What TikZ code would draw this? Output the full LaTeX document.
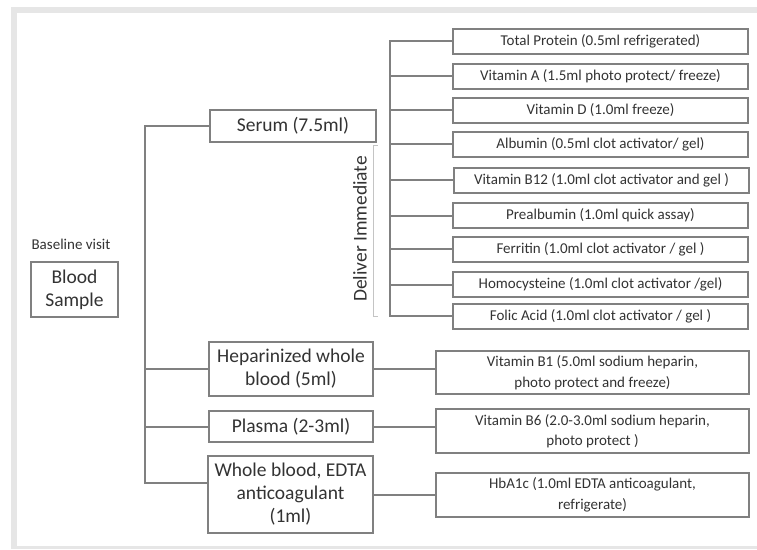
\documentclass[tikz,border=0pt]{standalone}
\usepackage{fontspec}
\setmainfont{Carlito}
\definecolor{linegray}{HTML}{808080}
\definecolor{txt}{HTML}{333333}
\definecolor{framegray}{HTML}{E6E6E6}
\definecolor{brgray}{HTML}{C4C4C4}
\begin{document}
\begin{tikzpicture}[x=1pt,y=-1pt,
  box/.style={draw=linegray, line width=2pt, text=txt, inner sep=0pt, align=center, fill=white},
  small/.style={font=\fontsize{15}{20.5}\selectfont},
  big/.style={font=\fontsize{19.5}{23}\selectfont},
  rbox/.style={box, small, minimum width=295pt, minimum height=25pt},
  lbox/.style={box, big, minimum width=164pt},
  bbox/.style={box, small, minimum width=313pt, minimum height=44pt},
  conn/.style={draw=linegray, line width=2pt},
  brk/.style={draw=brgray, line width=1pt}]
\useasboundingbox (0,0) rectangle (757,549);
\fill[framegray] (11,7) rectangle (757,549);
\fill[white] (17,13) rectangle (757,546);

% left
\node[text=txt, small] (base) at (71,244) {Baseline visit};
\node[box, big, minimum width=87pt, minimum height=55pt] (blood) at (74.5,289.5) {Blood\\Sample};

% middle column
\node[box, big, minimum width=166pt, minimum height=32pt] (serum) at (293,126) {Serum (7.5ml)};
\node[lbox, minimum height=54pt] (hep) at (291,369) {Heparinized whole\\blood (5ml)};
\node[lbox, minimum height=31pt] (pl) at (291,426.5) {Plasma (2-3ml)};
\node[lbox, minimum width=165pt, minimum height=77pt] (wb) at (290.5,494.5) {Whole blood, EDTA\\anticoagulant\\(1ml)};

% right column (serum)
\node[rbox] (tp) at (600.5,41) {Total Protein (0.5ml refrigerated)};
\node[rbox] (va) at (600.5,76) {Vitamin A (1.5ml photo protect/ freeze)};
\node[rbox] (vd) at (600.5,110) {Vitamin D (1.0ml freeze)};
\node[rbox] (alb) at (600.5,144) {Albumin (0.5ml clot activator/ gel)};
\node[rbox] (b12) at (601.5,180) {Vitamin B12 (1.0ml clot activator and gel )};
\node[rbox] (pre) at (600.5,215.5) {Prealbumin (1.0ml quick assay)};
\node[rbox] (fer) at (600.5,249) {Ferritin (1.0ml clot activator / gel )};
\node[rbox] (hom) at (600.5,284.5) {Homocysteine (1.0ml clot activator /gel)};
\node[rbox] (fol) at (600.5,316) {Folic Acid (1.0ml clot activator / gel )};

% bottom right
\node[bbox, minimum height=43pt] (b1) at (592.5,372.5) {Vitamin B1 (5.0ml sodium heparin,\\photo protect and freeze)};
\node[bbox] (b6) at (592.5,431) {Vitamin B6 (2.0-3.0ml sodium heparin,\\photo protect )};
\node[bbox] (hb) at (592.5,495) {HbA1c (1.0ml EDTA anticoagulant,\\refrigerate)};

% trunk
\coordinate (trunkbot) at (145,483);
\draw[conn] (serum.west) -| (trunkbot) -- (trunkbot -| wb.west);
\draw[conn] (hep.west) -- (hep.west -| trunkbot);
\draw[conn] (pl.west) -- (pl.west -| trunkbot);

% serum branch
\coordinate (sb) at (390,0);
\draw[conn] (tp.west) -| (sb |- fol.west) -- (fol.west);
\foreach \n in {va,vd,alb,b12,pre,fer,hom}
  \draw[conn] (\n.west) -- (\n.west -| sb);

% bottom connectors
\draw[conn] (hep.east) -- (hep.east -| b1.west);
\draw[conn] (pl.east) -- (pl.east -| b6.west);
\draw[conn] (wb.east) -- (wb.east -| hb.west);

% deliver immediate bracket
\coordinate (bt) at (377.5,145);
\coordinate (bb) at (378,316);
\draw[brk] (bt) -- ++(-4.5,0) |- (bb);
\node[text=txt, big, rotate=90] (deliver) at (360,229) {Deliver Immediate};
\end{tikzpicture}
\end{document}
